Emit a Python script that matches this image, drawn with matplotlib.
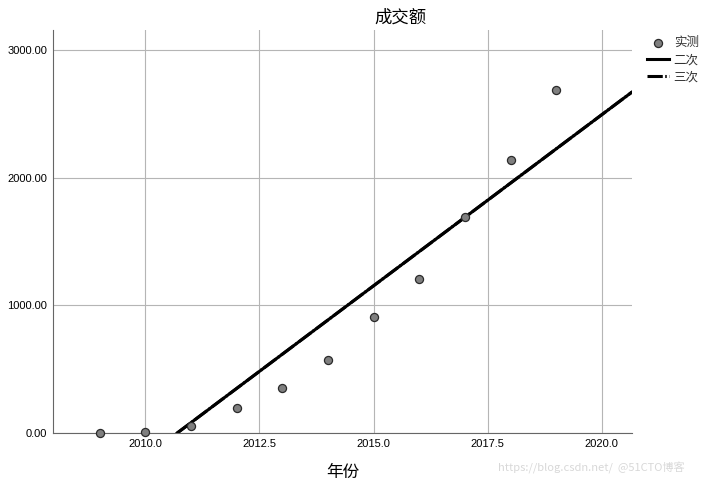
import matplotlib
matplotlib.use('Agg')
import matplotlib.pyplot as plt
from matplotlib.ticker import FormatStrFormatter

plt.rcParams['font.family'] = ['Liberation Sans', 'Noto Sans CJK SC', 'DejaVu Sans']

# observed values
years = [2009, 2010, 2011, 2012, 2013, 2014, 2015, 2016, 2017, 2018, 2019]
amount = [2, 8, 55, 195, 355, 575, 910, 1210, 1690, 2140, 2690]

# fitted curve (quadratic and cubic drawn on top of each other)
fit_years = [2010.7, 2020.66]
fit_amount = [0, 2671]

xticks = [2010.0, 2012.5, 2015.0, 2017.5, 2020.0]
yticks = [0, 1000, 2000, 3000]

fig = plt.figure(figsize=(7.04, 4.87), dpi=100)
ax = fig.add_axes([53 / 704, 54 / 487, 579 / 704, 403 / 487])

ax.scatter(years, amount, s=34, color='#7f7f7f', edgecolors='#2a2a2a',
           linewidths=0.9, zorder=3, label='实测', clip_on=False)
ax.plot(fit_years, fit_amount, color='black', lw=2.2, label='二次', zorder=2)
ax.plot(fit_years, fit_amount, color='black', lw=2.2, ls=(0, (5, 0.8, 0.5, 0.8)),
        label='三次', zorder=2)

ax.set_xlim(2007.98, 2020.66)
ax.set_ylim(0, 3157)
ax.set_xticks(xticks)
ax.set_yticks(yticks)
ax.xaxis.set_major_formatter(FormatStrFormatter('%.1f'))
ax.yaxis.set_major_formatter(FormatStrFormatter('%.2f'))
ax.tick_params(length=0, labelsize=8, pad=4)
ax.grid(True, color='#b5b5b5', lw=0.8)
ax.set_axisbelow(True)

for side in ['top', 'right']:
    ax.spines[side].set_visible(False)
ax.spines['left'].set_color('#666666')
ax.spines['bottom'].set_color('#666666')

ax.set_xlabel('年份', family=['Noto Sans CJK SC'], fontsize=12, labelpad=11)
fig.text(400 / 704, 1 - 18 / 487, '成交额', family=['Noto Sans CJK SC'],
         fontsize=12.5, ha='center', va='center')

ax.legend(loc='upper left', bbox_to_anchor=(1.018, 0.998), frameon=False,
          prop={'family': 'Noto Sans CJK SC', 'size': 9}, handlelength=1.7,
          labelspacing=0.35, borderaxespad=0, handletextpad=0.4,
          labelcolor='#333333')

fig.text(498 / 704, 1 - 468 / 487, 'https://blog.csdn.net/  @51CTO博客',
         family=['Noto Sans CJK SC'], fontsize=8, color='#d8d8d8', va='center')

plt.savefig('out.png', dpi=100)
